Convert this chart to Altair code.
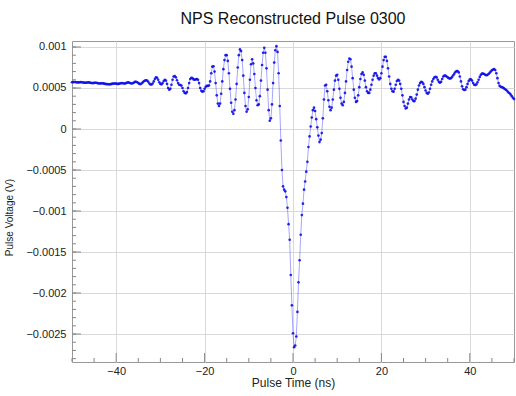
import altair as alt
import pandas as pd

# Pulse voltage samples in units of 1e-4 V, one every 0.25 ns starting at -50 ns
T_START = -50.0
T_STEP = 0.25
volts_e4 = [
    # -50 .. -45.25
    5.70, 5.72, 5.73, 5.72, 5.70, 5.68, 5.68, 5.70, 5.72, 5.70, 5.67, 5.65, 5.64, 5.65, 5.67, 5.68, 5.66, 5.63, 5.60, 5.60,
    # -45 .. -40.25
    5.62, 5.64, 5.63, 5.60, 5.57, 5.55, 5.56, 5.58, 5.57, 5.53, 5.50, 5.48, 5.47, 5.46, 5.45, 5.47, 5.50, 5.53, 5.55, 5.55,
    # -40 .. -35.25
    5.53, 5.50, 5.50, 5.53, 5.58, 5.60, 5.58, 5.55, 5.55, 5.60, 5.66, 5.68, 5.64, 5.58, 5.55, 5.58, 5.66, 5.74, 5.76, 5.70,
    # -35 .. -30.25
    5.60, 5.50, 5.48, 5.55, 5.68, 5.82, 5.90, 5.95, 5.90, 5.75, 5.55, 5.42, 5.42, 5.55, 5.80, 6.10, 6.30, 6.25, 6.00, 5.70,
    # -30 .. -25.25
    5.50, 5.45, 5.60, 5.85, 6.00, 5.90, 5.50, 5.00, 4.80, 4.90, 5.40, 6.00, 6.40, 6.45, 6.30, 5.95, 5.60, 5.40, 5.35, 5.30,
    # -25 .. -20.25
    5.00, 4.60, 4.40, 4.35, 4.50, 5.00, 5.60, 6.10, 6.25, 6.20, 6.05, 6.00, 6.05, 6.10, 6.00, 5.60, 5.00, 4.65, 4.55, 4.60,
    # -20 .. -15.25
    4.90, 5.15, 5.25, 5.25, 5.30, 5.80, 6.80, 7.60, 7.65, 7.00, 5.60, 4.10, 3.10, 2.80, 3.10, 4.30, 5.80, 7.30, 8.40, 9.00,
    # -15 .. -10.25
    9.00, 8.30, 6.80, 4.90, 3.20, 2.10, 1.85, 2.30, 3.60, 5.50, 7.50, 9.00, 9.70, 9.50, 8.40, 6.50, 4.40, 2.80, 2.10, 2.40,
    # -10 .. -5.25
    3.90, 6.00, 7.90, 8.50, 8.00, 6.70, 5.00, 3.50, 2.90, 3.00, 4.00, 5.90, 7.80, 9.30, 9.90, 9.30, 7.40, 4.80, 2.30, 1.00,
    # -5 .. -0.25
    1.30, 3.00, 5.60, 8.10, 9.60, 10.10, 9.40, 6.80, 2.80, -1.40, -5.00, -7.00, -7.40, -7.60, -8.30, -9.60, -11.60, -13.50, -17.80, -21.50,
    # 0 .. 4.75
    -24.90, -26.60, -26.40, -25.30, -22.30, -18.70, -16.00, -12.90, -10.50, -9.10, -7.40, -6.40, -5.20, -4.00, -2.20, -0.90, 0.30, 1.40, 2.30, 2.60,
    # 5 .. 9.75
    2.20, 1.20, 0.20, -0.80, -1.60, -1.30, -0.50, 1.30, 3.60, 5.30, 5.40, 4.60, 3.50, 2.70, 2.30, 2.60, 3.60, 4.80, 5.90, 6.50,
    # 10 .. 14.75
    6.60, 6.00, 4.90, 3.80, 3.10, 2.90, 3.30, 4.40, 5.80, 7.20, 8.20, 8.60, 8.50, 7.60, 6.20, 4.80, 3.80, 3.30, 3.40, 4.10,
    # 15 .. 19.75
    5.10, 6.10, 6.70, 6.90, 6.60, 5.90, 5.10, 4.60, 4.40, 4.40, 4.80, 5.40, 6.00, 6.50, 6.80, 6.80, 6.50, 6.20, 6.05, 6.20,
    # 20 .. 24.75
    6.80, 7.60, 8.40, 8.80, 8.80, 8.30, 7.40, 6.40, 5.50, 4.90, 4.60, 4.55, 4.90, 5.40, 5.85, 6.00, 5.90, 5.50, 4.90, 4.10,
    # 25 .. 29.75
    3.30, 2.80, 2.50, 2.60, 3.10, 3.60, 3.90, 3.85, 3.60, 3.40, 3.40, 3.70, 4.20, 4.80, 5.30, 5.60, 5.75, 5.70, 5.50, 5.10,
    # 30 .. 34.75
    4.70, 4.40, 4.30, 4.45, 4.90, 5.40, 5.80, 6.10, 6.30, 6.35, 6.30, 6.00, 5.75, 5.65, 5.75, 6.10, 6.40, 6.50, 6.50, 6.40,
    # 35 .. 39.75
    6.30, 6.20, 6.15, 6.20, 6.35, 6.55, 6.75, 6.95, 7.05, 7.05, 6.90, 6.40, 5.80, 5.20, 4.85, 4.75, 4.80, 5.10, 5.50, 5.85,
    # 40 .. 44.75
    6.05, 6.05, 5.90, 5.60, 5.40, 5.35, 5.45, 5.70, 6.00, 6.35, 6.60, 6.75, 6.75, 6.70, 6.60, 6.55, 6.60, 6.70, 6.85, 7.00,
    # 45 .. 50
    7.15, 7.25, 7.30, 7.20, 6.80, 6.20, 5.60, 5.25, 5.15, 5.10, 5.05, 4.95, 4.85, 4.75, 4.60, 4.45, 4.35, 4.20, 4.00, 3.80, 3.65,
]

x_domain = [-50, 50]
y_domain = [-0.002841, 0.001073]
x_label_values = [-40, -20, 0, 20, 40]
y_label_values = [-0.0025, -0.002, -0.0015, -0.001, -0.0005, 0, 0.0005, 0.001]
x_minor_ticks = [-50, -45, -35, -30, -25, -15, -10, -5, 5, 10, 15, 25, 30, 35, 45, 50]
y_minor_ticks = [round(-0.0028 + 0.0001 * i, 4) for i in range(39)]

W, H = 442, 321
FONT = "Liberation Sans"

df = pd.DataFrame({
    "t": [T_START + T_STEP * i for i in range(len(volts_e4))],
    "v": [x * 1e-4 for x in volts_e4],
})

xs = alt.Scale(domain=x_domain, nice=False, zero=False)
ys = alt.Scale(domain=y_domain, nice=False, zero=False)

x_axis = alt.Axis(values=x_label_values, title="Pulse Time (ns)", grid=True, ticks=False,
                  domain=False, labelPadding=3, labelFontSize=11, titleFontSize=12,
                  titleFontWeight="normal", titlePadding=1, format="d",
                  labelColor="#222", titleColor="#222", gridColor="#d9d9d9")
y_axis = alt.Axis(values=y_label_values, title="Pulse Voltage (V)", grid=True, ticks=False,
                  domain=False, labelPadding=6, labelFontSize=11, titleFontSize=10,
                  titleFontWeight="normal", format="~g", labelColor="#222",
                  titleColor="#222", gridColor="#d9d9d9", titleX=-58, titleY=176)

line = alt.Chart(df).mark_line(color="#0000ff", strokeWidth=1, opacity=0.35).encode(
    x=alt.X("t:Q", scale=xs, axis=x_axis),
    y=alt.Y("v:Q", scale=ys, axis=y_axis),
)
pts = alt.Chart(df).mark_circle(color="#1010e8", size=7, opacity=0.9).encode(
    x=alt.X("t:Q", scale=xs, axis=x_axis),
    y=alt.Y("v:Q", scale=ys, axis=y_axis),
)

ymaj = pd.DataFrame({"v": y_label_values})
ymin = pd.DataFrame({"v": y_minor_ticks})
xmaj = pd.DataFrame({"t": x_label_values})
xmin = pd.DataFrame({"t": x_minor_ticks})

tick_color = "#888888"
ytick_major = alt.Chart(ymaj).mark_rule(color=tick_color, strokeWidth=1).encode(
    y=alt.Y("v:Q", scale=ys, axis=y_axis), x=alt.value(0), x2=alt.value(9))
ytick_minor = alt.Chart(ymin).mark_rule(color=tick_color, strokeWidth=1).encode(
    y=alt.Y("v:Q", scale=ys, axis=y_axis), x=alt.value(0), x2=alt.value(4))
xtick_major = alt.Chart(xmaj).mark_rule(color=tick_color, strokeWidth=1).encode(
    x=alt.X("t:Q", scale=xs, axis=x_axis), y=alt.value(H), y2=alt.value(H - 9))
xtick_minor = alt.Chart(xmin).mark_rule(color=tick_color, strokeWidth=1).encode(
    x=alt.X("t:Q", scale=xs, axis=x_axis), y=alt.value(H), y2=alt.value(H - 4))

chart = alt.layer(line, ytick_major, ytick_minor, xtick_major, xtick_minor, pts).properties(
    width=W, height=H,
    title=alt.TitleParams("NPS Reconstructed Pulse 0300", fontSize=16, font=FONT,
                          fontWeight="normal", color="#111", anchor="middle", offset=14),
    autosize=alt.AutoSizeParams(type="none"),
    padding={"left": 72, "top": 41, "right": 2, "bottom": 34},
).configure(font=FONT, background="white").configure_view(
    stroke="#999999", strokeWidth=1
).configure_axis(labelFont=FONT, titleFont=FONT)

chart.save("out.html", embed_options={"renderer": "svg", "actions": False})
